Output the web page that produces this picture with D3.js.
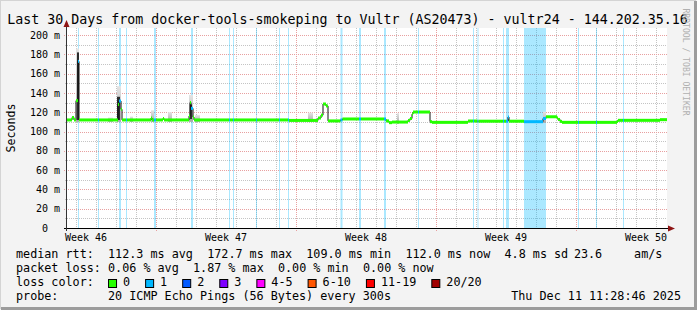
<!DOCTYPE html>
<html>
<head>
<meta charset="utf-8">
<script src="https://cdn.jsdelivr.net/npm/d3@7"></script>
<style>
  body { margin: 0; background: #f3f3f3; }
  svg { display: block; }
  text { font-family: "DejaVu Sans Mono", monospace; fill: #000; }
</style>
</head>
<body>
<svg width="697" height="310"></svg>
<script>
// ---- data ----
const titleText = "Last 30 Days from docker-tools-smokeping to Vultr (AS20473) - vultr24 - 144.202.35.16";
const timeStart = "11-12 13:12";
const timeEnd = "12-12 13:12";
const yMax = 207.3;
const yLabels = [0, 20, 40, 60, 80, 100, 120, 140, 160, 180, 200];

// median rtt in ms: [start time, value, lost pings] -- each step holds until the next one
const median = [
  ["11-12 13:12", 112, 0], ["11-12 19:12", 114.5, 0], ["11-12 21:36", 112, 0],
  ["11-13 00:00", 132, 0], ["11-13 02:24", 172.7, 1], ["11-13 03:36", 112, 0],
  ["11-14 02:24", 112, 1], ["11-14 03:36", 112, 0],
  ["11-15 02:24", 128, 0], ["11-15 03:36", 131.6, 1], ["11-15 06:00", 123, 0], ["11-15 07:12", 112, 0],
  ["11-15 12:00", 112, 1], ["11-15 13:12", 112, 0],
  ["11-16 18:00", 114, 0], ["11-16 19:12", 112, 0],
  ["11-16 21:36", 112, 1], ["11-17 00:00", 112, 0],
  ["11-17 08:24", 113.5, 0], ["11-17 09:36", 112, 0],
  ["11-18 15:36", 116, 0], ["11-18 16:48", 130, 0], ["11-18 18:00", 124, 1],
  ["11-18 20:24", 115, 0], ["11-18 21:36", 112, 0],
  ["11-20 15:36", 112, 1], ["11-20 16:48", 112, 0],
  ["11-20 20:24", 112, 1], ["11-20 21:36", 112, 0],
  ["11-22 00:00", 112, 1], ["11-22 01:12", 112, 0],
  ["11-23 03:36", 112, 1], ["11-23 04:48", 112, 0],
  ["11-23 14:24", 112, 1], ["11-23 15:36", 111.5, 0],
  ["11-25 02:24", 114, 0], ["11-25 06:00", 117, 0], ["11-25 08:24", 128.5, 0],
  ["11-25 12:00", 126.5, 0], ["11-25 14:24", 111, 0],
  ["11-26 05:24", 112, 1], ["11-26 07:48", 113, 0],
  ["11-27 03:36", 113, 1], ["11-27 06:00", 113, 0],
  ["11-28 09:36", 113, 1], ["11-28 12:00", 111, 0], ["11-28 15:36", 109.2, 0], ["11-28 19:12", 109.8, 0],
  ["11-29 14:24", 111.5, 0], ["11-29 16:48", 113.5, 0], ["11-29 19:12", 118, 0], ["11-29 20:24", 120.2, 0],
  ["11-30 02:24", 120.2, 1], ["11-30 03:36", 120.2, 0],
  ["11-30 16:48", 110.2, 0], ["11-30 19:12", 109.5, 0],
  ["12-02 14:24", 110.9, 0],
  ["12-02 20:24", 110.9, 1], ["12-02 21:36", 110.9, 0],
  ["12-03 01:48", 110.7, 1], ["12-03 03:00", 110.7, 0],
  ["12-04 08:24", 110.7, 1], ["12-04 09:36", 110.7, 0],
  ["12-04 12:00", 110.7, 1], ["12-04 14:24", 115, 1], ["12-04 15:36", 110.7, 0],
  ["12-05 09:36", 110.2, 1], ["12-06 08:24", 113.5, 1], ["12-06 12:00", 115.3, 0],
  ["12-07 01:12", 114, 0], ["12-07 02:24", 112.5, 0], ["12-07 04:48", 110.5, 0], ["12-07 07:12", 109.5, 0],
  ["12-08 02:24", 109.5, 1], ["12-08 03:36", 109.5, 0],
  ["12-09 00:00", 109.5, 1], ["12-09 01:12", 109.5, 0],
  ["12-10 01:12", 110.5, 0], ["12-10 02:24", 111.6, 0],
  ["12-10 08:24", 111.6, 1], ["12-10 09:36", 111.6, 0],
  ["12-12 04:48", 112.3, 0]
];

// periods with packet loss (1 of 20 lost): [from, to]
const lossPeriods = [
  ["11-13 02:24", "11-13 03:36"], ["11-14 02:24", "11-14 03:36"], ["11-15 03:36", "11-15 06:00"],
  ["11-15 12:00", "11-15 13:12"], ["11-16 21:36", "11-17 00:00"], ["11-18 18:00", "11-18 20:24"],
  ["11-20 15:36", "11-20 16:48"], ["11-20 20:24", "11-20 21:36"], ["11-22 00:00", "11-22 01:12"],
  ["11-23 03:36", "11-23 04:48"], ["11-23 14:24", "11-23 15:36"], ["11-26 05:24", "11-26 07:48"],
  ["11-27 03:36", "11-27 06:00"], ["11-28 09:36", "11-28 12:00"], ["11-30 02:24", "11-30 03:36"],
  ["12-02 20:24", "12-02 21:36"], ["12-03 01:48", "12-03 03:00"], ["12-04 08:24", "12-04 09:36"],
  ["12-04 12:00", "12-04 15:36"], ["12-05 09:36", "12-06 12:00"], ["12-08 02:24", "12-08 03:36"],
  ["12-09 00:00", "12-09 01:12"], ["12-10 08:24", "12-10 09:36"]
];

// ping spread ("smoke"): [from, to, low ms, high ms]
const smokeOuter = [
  ["11-13 00:00", "11-13 03:36", 110, 186], ["11-14 14:24", "11-14 20:24", 110, 114.5],
  ["11-15 01:12", "11-15 06:00", 110, 147], ["11-15 16:48", "11-15 20:24", 110, 115.5],
  ["11-16 18:00", "11-16 21:36", 110, 122], ["11-17 14:24", "11-17 19:12", 110, 120],
  ["11-18 15:36", "11-18 20:24", 110, 138], ["11-18 22:48", "11-19 04:48", 110, 117],
  ["11-22 00:00", "11-22 01:12", 110, 117], ["11-24 14:24", "11-24 20:24", 110, 119.5],
  ["11-29 01:12", "11-29 03:36", 108, 119], ["12-06 08:24", "12-06 12:00", 109, 120.5]
];
const smokeInner = [
  ["11-13 01:12", "11-13 03:36", 112, 182],
  ["11-15 01:12", "11-15 04:48", 112, 136],
  ["11-18 16:48", "11-18 19:12", 113, 128]
];

const lossLevels = ["0", "1", "2", "3", "4-5", "6-10", "11-19", "20/20"];
const lossColors = ["#26ff00", "#00b8ff", "#0059ff", "#7e00ff", "#ff00ff", "#ff5500", "#ff0000", "#a10000"];

// legend rows as [text column, text]
const rttRow = [[0, "median rtt:"], [13, "112.3 ms avg"], [27, "172.7 ms max"], [41, "109.0 ms min"],
  [55, "112.0 ms now"], [69, "4.8 ms sd"], [78.8, "23.6"], [87.3, "am/s"]];
const lossRow = [[0, "packet loss:"], [13, "0.06 % avg"], [25, "1.87 % max"], [37, "0.00 % min"], [49, "0.00 % now"]];
const probeRow = [[0, "probe:"], [13, "20 ICMP Echo Pings (56 Bytes) every 300s"]];
const stampText = "Thu Dec 11 11:28:46 2025";
const sideText = "RRDTOOL / TOBI OETIKER";

// ---- drawing ----
const parse = d3.utcParse("%Y-%m-%d %H:%M");
const t = s => parse("2025-" + s);

const svg = d3.select("svg");
const plot = { left: 67, right: 667, top: 28, bottom: 228 };

const x = d3.scaleUtc().domain([t(timeStart), t(timeEnd)]).range([plot.left, plot.right]);
const y = d3.scaleLinear().domain([0, yMax]).range([plot.bottom, plot.top]);
const lossColor = d3.scaleOrdinal().domain(d3.range(lossLevels.length)).range(lossColors);
const px = v => Math.round(v) + 0.5;

// frame
svg.append("rect").attr("width", 697).attr("height", 310).attr("fill", "#f3f3f3");
svg.append("path").attr("d", "M0,309V0H696").attr("stroke", "#d4d4d4").attr("stroke-width", 2).attr("fill", "none");
svg.append("path").attr("d", "M1,308.5H695.5V1").attr("stroke", "#9c9c9c").attr("stroke-width", 3).attr("fill", "none");

// canvas
svg.append("rect")
  .attr("x", plot.left).attr("y", plot.top)
  .attr("width", plot.right - plot.left).attr("height", plot.bottom - plot.top)
  .attr("fill", "#fff");

// grid
const grid = svg.append("g").attr("stroke-width", 1).attr("stroke-dasharray", "1,1");
const days = x.ticks(d3.utcDay).filter(d => d.getUTCDay() !== 1);
const mondays = x.ticks(d3.utcMonday);
grid.selectAll(".vmin").data(days).join("line")
  .attr("x1", d => px(x(d))).attr("x2", d => px(x(d)))
  .attr("y1", plot.top).attr("y2", plot.bottom + 2)
  .attr("stroke", "#c4c4c4");
const hMinor = d3.range(10, yMax, 20);
grid.selectAll(".hmin").data(hMinor).join("line")
  .attr("x1", plot.left - 2).attr("x2", plot.right)
  .attr("y1", d => px(y(d))).attr("y2", d => px(y(d)))
  .attr("stroke", "#c4c4c4");
grid.selectAll(".vmaj").data(mondays).join("line")
  .attr("x1", d => px(x(d))).attr("x2", d => px(x(d)))
  .attr("y1", plot.top).attr("y2", plot.bottom + 3)
  .attr("stroke", "#e8a0a0");
grid.selectAll(".hmaj").data(yLabels.filter(v => v > 0)).join("line")
  .attr("x1", plot.left - 3).attr("x2", plot.right)
  .attr("y1", d => px(y(d))).attr("y2", d => px(y(d)))
  .attr("stroke", "#e8a0a0");

// loss background bars
svg.append("g").selectAll("rect").data(lossPeriods).join("rect")
  .attr("x", d => x(t(d[0])))
  .attr("width", d => Math.max(1, x(t(d[1])) - x(t(d[0]))))
  .attr("y", plot.top).attr("height", plot.bottom - plot.top)
  .attr("fill", lossColor(1)).attr("opacity", 0.33);

// smoke, fading towards its upper edge
const defs = svg.append("defs");
const fade = defs.append("linearGradient").attr("id", "fade").attr("x1", 0).attr("x2", 0).attr("y1", 0).attr("y2", 1);
fade.append("stop").attr("offset", 0).attr("stop-color", "#e4e4e4");
fade.append("stop").attr("offset", 1).attr("stop-color", "#a8a8a8");
const smoke = (rows, fill) => svg.append("g").selectAll("rect").data(rows).join("rect")
  .attr("x", d => x(t(d[0])))
  .attr("width", d => x(t(d[1])) - x(t(d[0])))
  .attr("y", d => y(d[3]))
  .attr("height", d => y(d[2]) - y(d[3]))
  .attr("fill", fill);
smoke(smokeOuter, "url(#fade)");
smoke(smokeInner, "#2c2c2c");

// median: black line then loss-coloured band
const pts = median.map(d => ({ t: t(d[0]), v: d[1], loss: d[2] }));
const segs = pts.map((d, i) => ({ ...d, t1: i < pts.length - 1 ? pts[i + 1].t : t(timeEnd) }));
svg.append("path")
  .datum([...pts, { t: t(timeEnd), v: pts[pts.length - 1].v }])
  .attr("fill", "none").attr("stroke", "#111").attr("stroke-width", 1)
  .attr("d", d3.line().x(d => x(d.t)).y(d => y(d.v)).curve(d3.curveStepAfter));
svg.append("g").selectAll("rect").data(segs).join("rect")
  .attr("x", d => x(d.t))
  .attr("width", d => x(d.t1) - x(d.t))
  .attr("y", d => y(d.v) - 1.5)
  .attr("height", 3)
  .attr("fill", d => lossColor(d.loss));

// axes
svg.append("line").attr("x1", 64).attr("x2", 671).attr("y1", plot.bottom + 0.5).attr("y2", plot.bottom + 0.5)
  .attr("stroke", "#000");
svg.append("line").attr("x1", plot.left - 0.5).attr("x2", plot.left - 0.5).attr("y1", plot.bottom + 3).attr("y2", 24)
  .attr("stroke", "#333");
svg.append("path").attr("d", `M668,${plot.bottom - 2.5}L675,${plot.bottom + 0.5}L668,${plot.bottom + 3.5}Z`).attr("fill", "#8e1414");
svg.append("path").attr("d", `M63.5,27L66.5,20L69.5,27Z`).attr("fill", "#8e1414");

// y labels
const yl = svg.append("g").attr("font-size", 10);
yl.selectAll(".num").data(yLabels).join("text")
  .attr("x", 48).attr("y", d => y(d) + 3.6).attr("text-anchor", "end").text(d => d);
yl.selectAll(".unit").data(yLabels.filter(v => v > 0)).join("text")
  .attr("x", 54).attr("y", d => y(d) + 3.6).text("m");

// x labels: week name centred in its week
const weekStarts = d3.utcMonday.range(d3.utcMonday.floor(t(timeStart)), t(timeEnd));
svg.append("g").attr("font-size", 10).selectAll("text").data(weekStarts).join("text")
  .attr("x", d => x(d3.utcHour.offset(d, 84)))
  .attr("y", 241).attr("text-anchor", "middle")
  .text(d => "Week " + d3.utcFormat("%V")(d));

// title & side texts
svg.append("text").attr("x", 347.5).attr("y", 23.5).attr("text-anchor", "middle")
  .attr("font-size", 13.3).text(titleText);
svg.append("text").attr("transform", "translate(14.5,128) rotate(-90)").attr("text-anchor", "middle")
  .attr("font-size", 11.6).text("Seconds");
svg.append("text").attr("transform", "translate(683,62) rotate(90)").attr("text-anchor", "middle")
  .attr("font-size", 8.1).style("fill", "#b0b0b0").text(sideText);

// legend (monospace columns)
const col = c => 16 + c * 7.08;
const lg = svg.append("g").attr("font-size", 11.75);
const row = (items, yy) => items.forEach(([c, s]) => lg.append("text").attr("x", col(c)).attr("y", yy).text(s));
row(rttRow, 258);
row(lossRow, 272);
row([[0, "loss color:"]], 286);
let bx = col(13);
lossLevels.forEach((lvl, i) => {
  lg.append("rect").attr("x", bx + 0.5).attr("y", 279.5).attr("width", 8).attr("height", 8)
    .attr("fill", lossColor(i)).attr("stroke", "#000");
  lg.append("text").attr("x", bx + 15).attr("y", 286).text(lvl);
  bx += 15 + lvl.length * 7.08 + 15;
});
row(probeRow, 300);
lg.append("text").attr("x", 681).attr("y", 300).attr("text-anchor", "end").text(stampText);
</script>
</body>
</html>
